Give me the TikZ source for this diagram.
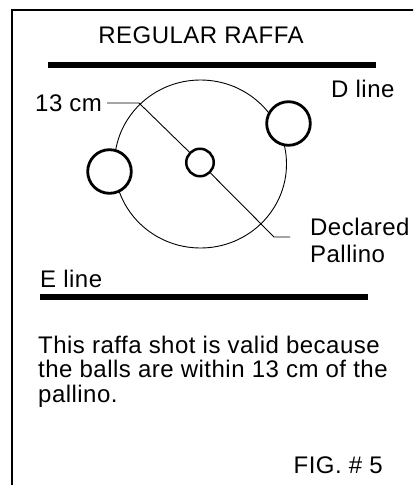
\documentclass[tikz,border=0pt]{standalone}
\usepackage{fontspec}
\setmainfont{Liberation Sans}[LetterSpace=2]
\usetikzlibrary{shapes.geometric}
\begin{document}
\begin{tikzpicture}[x=1pt,y=-1pt,
  txt/.style={font=\fontsize{24}{28}\selectfont, inner sep=0pt, anchor=base west},
  bar/.style={line width=5.5pt},
  ball/.style={draw, circle, line width=2.8pt, fill=white, inner sep=0pt, minimum size=43.6pt},
  leader/.style={line width=0.9pt}]
\useasboundingbox (0,0) rectangle (413,485);
\clip (0,0) rectangle (413,485);
\fill[white] (0,0) rectangle (413,485);
% frame
\draw[line width=2pt] (12,495) -- (12,10) -- (425,10);
% title and lines
\node[txt, anchor=base] (title) at (201,43) {REGULAR RAFFA};
\coordinate (d1) at (48,65); \coordinate (d2) at (376,65);
\draw[bar] (d1) -- (d2);
\node[txt] (dline) at (331,97) {D line};
\coordinate (e1) at (40,297); \coordinate (e2) at (368,297);
\draw[bar] (e1) -- (e2);
\node[txt] (eline) at (40,287) {E line};
% 13 cm zone
\node[draw, ellipse, line width=0.9pt, inner sep=0pt, minimum width=172pt, minimum height=168pt] (zone) at (200.5,164) {};
% balls
\node[ball] (lball) at (109.5,171.5) {};
\node[ball] (rball) at (288.5,123.5) {};
\node[draw, circle, line width=2.5pt, fill=white, inner sep=0pt, minimum size=27.5pt] (pal) at (200,162.5) {};
% labels
\node[txt] (cm) at (35,111) {13 cm};
\coordinate (c13) at (139,103);
\draw[leader] (cm.east |- c13) ++(5,0) coordinate (c0);
\draw[leader] (c0) -- (c13) -- (pal);
\node[txt] (decl) at (310,235) {Declared};
\node[txt] (pall) at (310,262) {Pallino};
\coordinate (k1) at (274,237); \coordinate (k2) at (290,237);
\draw[leader] (pal) -- (k1) -- (k2);
% text
\node[txt] (l1) at (38,353) {This raffa shot is valid because};
\node[txt] (l2) at (38,377.5) {the balls are within 13 cm of the};
\node[txt] (l3) at (38,402) {pallino.};
\node[txt, anchor=base east] (fig) at (383,473) {FIG. \# 5};
\end{tikzpicture}
\end{document}
